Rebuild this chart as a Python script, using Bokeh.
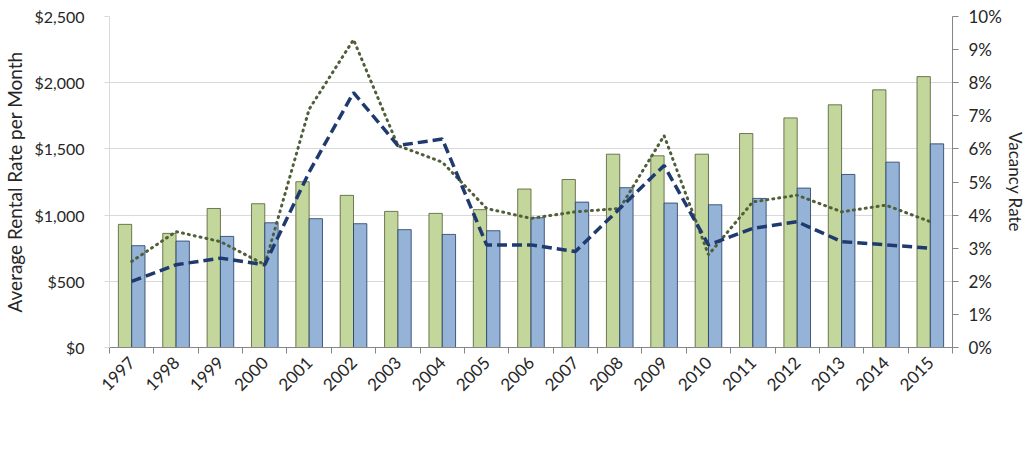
import math

from bokeh.embed import file_html
from bokeh.models import (ColumnDataSource, FixedTicker, Legend, LegendItem,
                          LinearAxis, NumeralTickFormatter, PrintfTickFormatter,
                          Range1d)
from bokeh.plotting import figure
from bokeh.resources import INLINE
from bokeh.transform import dodge

# Bellevue apartment market, 1997-2015
years = list(range(1997, 2016))
rent_cbd = [930, 862, 1050, 1086, 1252, 1149, 1028, 1013, 1041, 1197,
            1269, 1460, 1448, 1460, 1616, 1734, 1833, 1946, 2046]
rent_rem = [769, 804, 839, 942, 973, 935, 890, 854, 882, 980,
            1098, 1207, 1091, 1078, 1126, 1204, 1307, 1400, 1538]
vac_cbd = [2.6, 3.5, 3.2, 2.5, 7.2, 9.3, 6.1, 5.6, 4.2, 3.9,
           4.1, 4.2, 6.4, 2.8, 4.4, 4.6, 4.1, 4.3, 3.8]
vac_rem = [2.0, 2.5, 2.7, 2.5, 5.3, 7.7, 6.1, 6.3, 3.1, 3.1,
           2.9, 4.2, 5.5, 3.1, 3.6, 3.8, 3.2, 3.1, 3.0]

series_labels = ["Rent - Bellevue CBD", "Rent - Bellevue Remainder",
                 "Vacancy - Bellevue CBD", "Vacancy - Bellevue Remainder"]
rent_ticks = [0, 500, 1000, 1500, 2000, 2500]
vac_ticks = list(range(0, 11))

FONT = "Lato"
TEXT = "#262626"

src = ColumnDataSource(dict(year=years, rent_cbd=rent_cbd, rent_rem=rent_rem,
                            vac_cbd=vac_cbd, vac_rem=vac_rem))

p = figure(frame_width=843, frame_height=331, output_backend="svg", toolbar_location=None,
           x_range=Range1d(years[0] - 0.5, years[-1] + 0.5),
           y_range=Range1d(0, 2500))
p.min_border_left = 108
p.min_border_right = 77
p.min_border_top = 16
p.min_border_bottom = 0
p.outline_line_color = None
p.background_fill_color = "white"
p.border_fill_color = "white"

p.extra_y_ranges = {"vac": Range1d(0, 10)}

# bars
r1 = p.vbar(x=dodge("year", -0.15, range=p.x_range), top="rent_cbd", width=0.3,
            source=src, fill_color="#c3d69b", line_color="#4f5b33", line_width=0.8)
r2 = p.vbar(x=dodge("year", 0.15, range=p.x_range), top="rent_rem", width=0.3,
            source=src, fill_color="#95b3d7", line_color="#1f3864", line_width=0.8)

# vacancy lines
r3 = p.line(x="year", y="vac_cbd", source=src, y_range_name="vac",
            line_color="#4f5f3a", line_width=3, line_dash="1 5", line_cap="round")
r4 = p.line(x="year", y="vac_rem", source=src, y_range_name="vac",
            line_color="#1f3a6e", line_width=3.5, line_dash="10 5")

# x axis: labels at the years, small ticks between them
xa = p.xaxis[0]
xa.ticker = FixedTicker(ticks=years, minor_ticks=[y - 0.5 for y in years + [years[-1] + 1]])
xa.formatter = PrintfTickFormatter(format="%d")
xa.major_label_orientation = math.pi / 4
xa.major_tick_line_color = None
xa.minor_tick_line_color = "#868686"
xa.minor_tick_in = 0
xa.minor_tick_out = 6
xa.axis_line_color = "#868686"
xa.major_label_text_font = FONT
xa.major_label_text_font_size = "17px"
xa.major_label_text_color = TEXT
xa.major_label_standoff = 6

# left axis: rent
ya = p.yaxis[0]
ya.ticker = FixedTicker(ticks=rent_ticks)
ya.formatter = NumeralTickFormatter(format="$0,0")
ya.axis_label = "Average Rental Rate per Month"
ya.axis_label_text_font = FONT
ya.axis_label_text_font_style = "normal"
ya.axis_label_text_font_size = "19px"
ya.axis_label_text_color = TEXT
ya.axis_label_standoff = 5
ya.major_label_text_font = FONT
ya.major_label_text_font_size = "16px"
ya.major_label_text_color = TEXT
ya.axis_line_color = "#d9d9d9"
ya.major_tick_line_color = "#d9d9d9"
ya.major_tick_in = 0
ya.major_tick_out = 5
ya.minor_tick_line_color = None
ya.major_label_standoff = 20

# right axis: vacancy
ra = LinearAxis(y_range_name="vac", ticker=FixedTicker(ticks=vac_ticks),
                formatter=PrintfTickFormatter(format="%d%%"),
                axis_label="Vacancy Rate")
ra.axis_label_text_font = FONT
ra.axis_label_text_font_style = "normal"
ra.axis_label_text_font_size = "17px"
ra.axis_label_text_color = TEXT
ra.axis_label_standoff = 0
ra.major_label_text_font = FONT
ra.major_label_text_font_size = "17px"
ra.major_label_text_color = TEXT
ra.axis_line_color = "#868686"
ra.major_tick_line_color = "#868686"
ra.major_tick_in = 0
ra.major_tick_out = 6
ra.minor_tick_line_color = None
ra.major_label_standoff = 10
p.add_layout(ra, "right")

p.xgrid.grid_line_color = None
p.ygrid.ticker = FixedTicker(ticks=rent_ticks)
p.ygrid.grid_line_color = "#d9d9d9"

# legend row directly under the year labels
legend = Legend(items=[LegendItem(label=lab, renderers=[r])
                       for lab, r in zip(series_labels, [r1, r2, r3, r4])],
                orientation="horizontal", location="top_center")
legend.label_text_font = FONT
legend.label_text_font_size = "16px"
legend.label_text_color = TEXT
legend.glyph_width = 48
legend.glyph_height = 10
legend.label_standoff = 5
legend.spacing = 20
legend.padding = 2
legend.margin = 0
legend.border_line_color = None
legend.background_fill_alpha = 0
p.add_layout(legend, "below")

open("out.html", "w").write(file_html(p, INLINE))
